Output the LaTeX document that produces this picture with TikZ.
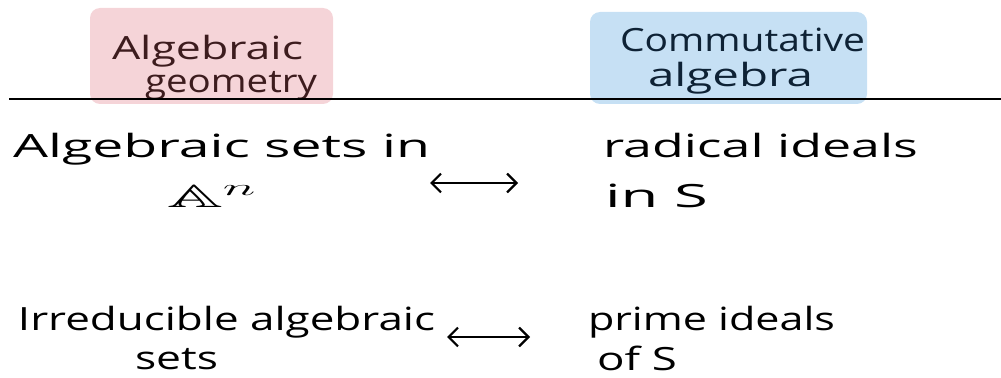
\documentclass[tikz,border=0pt]{standalone}
\usepackage{fontspec}
\usepackage{amssymb}
\usepackage{graphicx}
\setmainfont{Open Sans}
\usetikzlibrary{arrows.meta}
\newlength\mypx
\setlength\mypx{0.75pt}
\newcommand\hw[2]{\resizebox{#1\mypx}{\height}{#2}}
\definecolor{hlpink}{HTML}{F5D4D8}
\definecolor{hlblue}{HTML}{C6E0F4}
\definecolor{inkmaroon}{HTML}{3D1C1E}
\definecolor{inknavy}{HTML}{0E2235}
\tikzset{
  txt/.style={anchor=base west, inner sep=0pt, outer sep=0pt, font=\fontsize{24pt}{28pt}\selectfont},
  head/.style={anchor=base west, inner sep=0pt, outer sep=0pt, font=\fontsize{24pt}{28pt}\selectfont},
  hl/.style={rounded corners=7.5pt},
  dbl/.style={line width=1.7pt, {Straight Barb[length=7pt,width=14pt,line width=1.7pt]}-{Straight Barb[length=7pt,width=14pt,line width=1.7pt]}},
  rule/.style={line width=1.8pt}
}
\begin{document}
\begin{tikzpicture}[x=0.75pt,y=-0.75pt]
\useasboundingbox (0,0) rectangle (1001,378);
% highlights
\fill[hlpink,hl] (90,8) rectangle (333,104);
\fill[hlblue,hl] (590,12) rectangle (867,104);
% headers
\node[head,text=inkmaroon] (hg1) at (112,60) {\hw{191}{Algebraic}};
\node[head,text=inkmaroon] (hg2) at (145,93) {\hw{172}{geometry}};
\node[head,text=inknavy] (hc1) at (620,52) {\hw{245}{Commutative}};
\node[head,text=inknavy] (hc2) at (648,87) {\hw{165}{algebra}};
% rule
\coordinate (r1) at (9,99);
\coordinate (r2) at (1001,99);
\draw[rule] (r1) -- (r2);
% row 1
\node[txt] (as) at (13,157) {\hw{417}{Algebraic sets in}};
\node[txt] (an) at (167,208) {\hw{90}{$\mathbb{A}^{n}$}};
\node[txt] (ri) at (603,157) {\hw{315}{radical ideals}};
\node[txt] (is) at (605,207) {\hw{103}{in S}};
\coordinate (a1l) at (430,183);
\coordinate (a1r) at (518,183);
\draw[dbl] (a1l) -- (a1r);
% row 2
\node[txt] (ia) at (18,330) {\hw{417}{Irreducible algebraic}};
\node[txt] (st) at (135,369) {\hw{83}{sets}};
\node[txt] (pi) at (588,330) {\hw{247}{prime ideals}};
\node[txt] (os) at (597,370) {\hw{80}{of S}};
\coordinate (a2l) at (447,337);
\coordinate (a2r) at (530,337);
\draw[dbl] (a2l) -- (a2r);
\end{tikzpicture}
\end{document}
